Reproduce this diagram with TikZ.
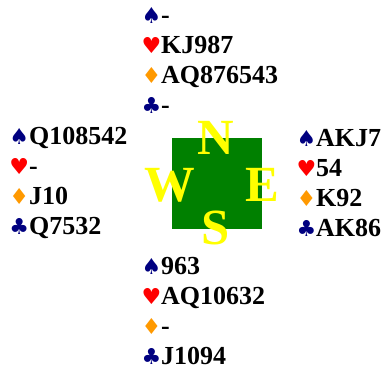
\documentclass[tikz,border=0pt]{standalone}
\usepackage{fontspec}
\setmainfont{Liberation Serif}
\newfontfamily\suitfont{DejaVu Sans}
\definecolor{suitblue}{RGB}{0,0,128}
\definecolor{suitred}{RGB}{255,0,0}
\definecolor{suitorange}{RGB}{255,153,0}
\definecolor{tablegreen}{RGB}{0,128,0}
\definecolor{compassyellow}{RGB}{255,255,0}
\newcommand{\spd}{{\suitfont\fontsize{16.5}{16.5}\selectfont\textcolor{suitblue}{♠}}}
\newcommand{\hrt}{{\suitfont\fontsize{16.5}{16.5}\selectfont\textcolor{suitred}{♥}}}
\newcommand{\dmd}{{\suitfont\fontsize{16.5}{16.5}\selectfont\textcolor{suitorange}{♦}}}
\newcommand{\clb}{{\suitfont\fontsize{16.5}{16.5}\selectfont\textcolor{suitblue}{♣}}}
\tikzset{every picture/.style={line width=0.75pt}}
\begin{document}
\begin{tikzpicture}[x=0.75pt,y=0.75pt,yscale=-1,xscale=1,
  hand/.style={anchor=west,align=left,inner sep=0pt,font=\fontsize{19.5}{22.5}\bfseries\selectfont},
  compass/.style={text=compassyellow,inner sep=0pt,font=\fontsize{38}{38}\bfseries\selectfont}]
\useasboundingbox (0,0) rectangle (383,370);

%Shape: Square [id:table]
\draw  [draw=none,fill=tablegreen] (172,138) -- (262,138) -- (262,229) -- (172,229) -- cycle ;

% Text Node
\draw (216,138) node [compass] (n) {N};
% Text Node
\draw (170,185) node [compass] (w) {W};
% Text Node
\draw (262,185) node [compass] (e) {E};
% Text Node
\draw (216,228) node [compass] (s) {S};

% Text Node
\draw (141,60) node [hand] (north) {\spd-\\\hrt KJ987\\\dmd AQ876543\\\clb-};
% Text Node
\draw (9,183) node [hand] (west) {\spd Q108542\\\hrt-\\\dmd J10\\\clb Q7532};
% Text Node
\draw (296,183) node [hand] (east) {\spd AKJ7\\\hrt 54\\\dmd K92\\\clb AK86};
% Text Node
\draw (141,311) node [hand] (south) {\spd 963\\\hrt AQ10632\\\dmd-\\\clb J1094};

\end{tikzpicture}
\end{document}
